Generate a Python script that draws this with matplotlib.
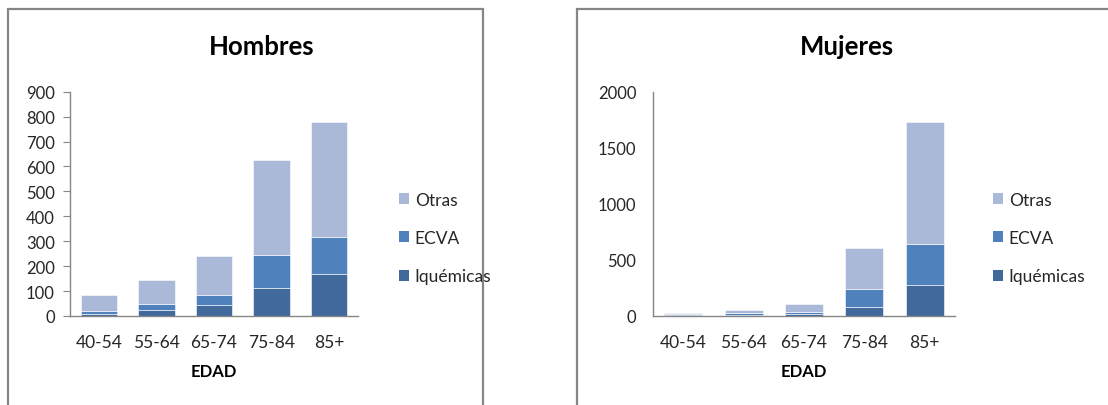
import matplotlib
matplotlib.use("Agg")
import matplotlib.pyplot as plt
from matplotlib.patches import Rectangle, Patch
import numpy as np

plt.rcParams['font.family'] = ['Lato', 'DejaVu Sans']

edades = ["40-54", "55-64", "65-74", "75-84", "85+"]
series = ["Iquémicas", "ECVA", "Otras"]

hombres_iquemicas = [10, 25, 44, 112, 167]
hombres_ecva = [10, 23, 40, 133, 151]
hombres_otras = [64, 95, 155, 381, 459]

mujeres_iquemicas = [8, 12, 18, 78, 277]
mujeres_ecva = [7, 12, 18, 160, 368]
mujeres_otras = [9, 32, 68, 366, 1083]

colores = {"Iquémicas": "#41699C", "ECVA": "#4F81BD", "Otras": "#AAB9D7"}
gris = "#868686"
texto = "#262626"

W, H = 1108, 406
fig = plt.figure(figsize=(W / 100, H / 100), dpi=100)

# panel frames
for x0, x1 in [(8, 483), (577, 1120)]:
    fig.add_artist(Rectangle((x0 / W, -0.1), (x1 - x0) / W, (H - 10) / H + 0.1,
                             transform=fig.transFigure, fill=False,
                             edgecolor=gris, linewidth=1.6))


def panel(left_px, right_px, titulo, datos, ymax, ystep, ticks_y, cx_titulo, leg_x):
    ax = fig.add_axes([left_px / W, (H - 317) / H, (right_px - left_px) / W, (317 - 92.7) / H])
    x = np.arange(len(edades))
    bottom = np.zeros(len(edades))
    for nombre, vals in zip(series, datos):
        ax.bar(x, vals, 0.63, bottom=bottom, color=colores[nombre],
               edgecolor="white", linewidth=0.4, label=nombre)
        bottom += np.array(vals)
    ax.set_xlim(-0.5, len(edades) - 0.5)
    ax.set_ylim(0, ymax)
    ax.set_yticks(np.arange(0, ymax + 1, ystep))
    ax.set_xticks(x)
    ax.set_xticklabels(edades, fontsize=12.5, color=texto)
    ax.tick_params(axis='x', length=0, pad=13)
    if ticks_y:
        ax.tick_params(axis='y', length=5, color=gris, labelsize=12, labelcolor=texto, pad=6)
    else:
        ax.tick_params(axis='y', length=0, labelsize=12, labelcolor=texto, pad=12)
    for s in ["top", "right"]:
        ax.spines[s].set_visible(False)
    for s in ["left", "bottom"]:
        ax.spines[s].set_color(gris)
        ax.spines[s].set_linewidth(1.0)
    ax.set_xlabel("EDAD", fontsize=12, fontweight="bold", color="black", labelpad=9)
    fig.text(cx_titulo / W, (H - 47) / H, titulo, fontsize=18.5, fontweight="bold",
             ha="center", va="center", color="black")
    handles = [Patch(facecolor=colores[n], edgecolor="none") for n in ["Otras", "ECVA", "Iquémicas"]]
    fig.legend(handles, ["Otras", "ECVA", "Iquémicas"], loc="center left",
               bbox_to_anchor=(leg_x / W, (H - 239) / H), frameon=False,
               fontsize=12.5, labelspacing=1.28, handlelength=0.6, handleheight=0.6,
               handletextpad=0.3, borderpad=0, borderaxespad=0, labelcolor=texto)
    return ax


panel(70, 358, "Hombres", [hombres_iquemicas, hombres_ecva, hombres_otras],
      900, 100, True, 262, 399)
panel(653, 955, "Mujeres", [mujeres_iquemicas, mujeres_ecva, mujeres_otras],
      2000, 500, False, 847, 993)

fig.savefig("out.png", dpi=100)
